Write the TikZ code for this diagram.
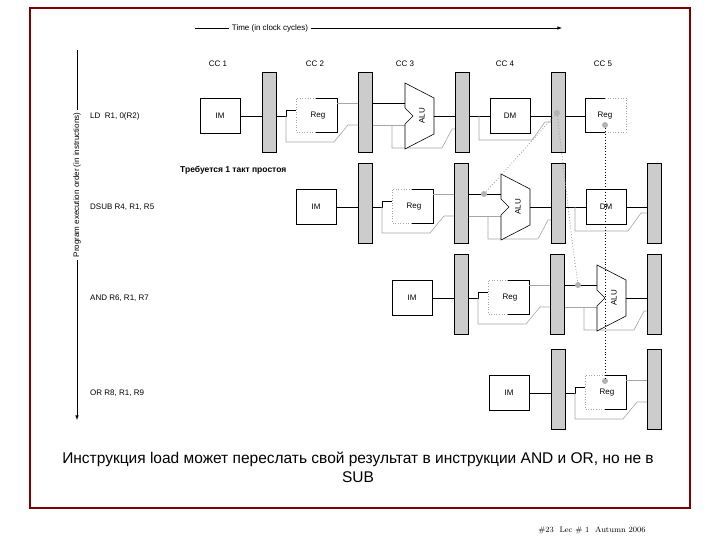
\documentclass[tikz,border=0pt]{standalone}
\usepackage{fontspec}
\setmainfont{Liberation Sans}
\begin{document}
\begin{tikzpicture}[x=1pt,y=-1pt,
  bar/.style={draw=black,fill=gray!40,line width=0.8pt},
  box/.style={draw=black,line width=0.6pt},
  w/.style={line width=0.6pt},
  gw/.style={line width=0.6pt,draw=gray!70},
  dotg/.style={draw=gray!70,dotted,line width=0.9pt},
  dot/.style={circle,fill=gray!60,inner sep=0pt,minimum size=6pt},
  lbl/.style={font=\fontsize{8}{9}\selectfont,inner sep=0pt}]
\useasboundingbox (0,0) rectangle (720,540);
\draw[draw=red!50!black,line width=1.2pt] (30,8) rectangle (690,508);
% axes
\node[lbl,inner xsep=3pt] (time) at (270,28) {Time (in clock cycles)};
\coordinate (t0) at (195,28); \coordinate (t1) at (562,28);
\draw[w] (t0) -- (time.west);
\draw[w,-latex] (time.east) -- (t1);
\node[lbl,rotate=90,inner xsep=3pt] (order) at (77,185) {Program execution order (in instructions)};
\coordinate (o0) at (77,50); \coordinate (o1) at (77,420);
\draw[w] (o0) -- (order.east);
\draw[w,-latex] (order.west) -- (o1);
\foreach \x/\t in {218/1,315/2,405/3,505/4,603/5}{\node[lbl] (cc\t) at (\x,64) {CC \t};}
% instruction labels
\node[lbl,anchor=west] (i1) at (90,116) {LD \ R1, 0(R2)};
\node[lbl,anchor=west] (i2) at (90,207) {DSUB R4, R1, R5};
\node[lbl,anchor=west] (i3) at (90,298) {AND R6, R1, R7};
\node[lbl,anchor=west] (i4) at (90,393) {OR R8, R1, R9};
\node[font=\bfseries\fontsize{8.5}{10}\selectfont,anchor=west,inner sep=0pt] (stall) at (180,170) {Требуется 1 такт простоя};
% macros
\newcommand\pIM{\draw[box] (-62,-18) rectangle node[lbl]{IM} (-22,17); \draw[w] (-22,0)--(0,0);}
\newcommand\pBar[1]{\draw[bar] (96.5*#1,-44) rectangle (96.5*#1+14,36);}
\newcommand\pID{\draw[w] (14,0)--(24,0)--(24,-6)--(34,-6);
  \draw[gw] (24,0)--(24,26)--(72,26)--(86,9)--(96.5,9);
  \draw[dotg,line width=0.6pt] (54,-18)--(34,-18)--(34,16)--(54,16);
  \draw[box] (54,-18)--(75,-18)--(75,16)--(54,16);
  \node[lbl] at (56,0) {Reg};
  \draw[gw] (75,-13)--(96.5,-13);}
\newcommand\pEX{\draw[w] (110.5,-13)--(143,-13); \draw[gw] (110.5,9)--(143,9);
  \draw[gw] (130,9)--(130,32)--(180,32)--(190,13)--(193,13);
  \draw[box,fill=white] (143,-33)--(172,-18)--(172,18)--(143,33)--(143,8)--(151,0)--(143,-8)--cycle;
  \node[lbl,rotate=90] at (160,0) {ALU};
  \draw[w] (172,0)--(193,0);}
\newcommand\pMEM{\draw[w] (207,0)--(228,0);
  \draw[gw] (217,0)--(217,24)--(270,24)--(283,6)--(289.5,6);
  \draw[box] (228,-18) rectangle node[lbl]{DM} (268,17); \draw[w] (268,0)--(289.5,0);}
\newcommand\pWB{\draw[w] (303.5,0)--(323,0);
  \draw[box] (323,-18)--(343,-18); \draw[box] (343,16)--(323,16)--(323,-18);
  \draw[dotg,line width=0.6pt] (343,-18)--(364,-18)--(364,16)--(343,16);
  \node[lbl] at (343,0) {Reg};}
% rows
\begin{scope}[shift={(262,116)}] \pIM \pID \pEX \pMEM \pWB \pBar0 \pBar1 \pBar2 \pBar3 \end{scope}
\begin{scope}[shift={(358,207)}] \pIM \pID \pEX \pMEM \pBar0 \pBar1 \pBar2 \pBar3 \end{scope}
\begin{scope}[shift={(454,298)}] \pIM \pID \pEX \pBar0 \pBar1 \pBar2 \end{scope}
\begin{scope}[shift={(551,393)}] \pIM \pID \pBar0 \pBar1 \end{scope}
% forwarding
\node[dot] (f1) at (557,113) {};
\node[dot] (f2) at (605,125) {};
\node[dot] (g2) at (484,194) {};
\node[dot] (g3) at (578,285) {};
\node[dot] (g4) at (605,381) {};
\draw[dotg] (f1) -- (g2);
\draw[dotg] (f1) -- (572,240) -- (g3);
\draw[dotted,line width=0.9pt] (f2) -- (g4);
% bottom text
\node[font=\fontsize{15.5}{19}\selectfont,align=center] (note) at (358,467) {Инструкция load может переслать свой результат в инструкции AND и OR, но не в\\SUB};
\node[font=\fontfamily{lmr}\fontsize{8}{9}\selectfont] (foot) at (592,530) {\#23 \ Lec \# 1 \ Autumn 2006};
\end{tikzpicture}
\end{document}
